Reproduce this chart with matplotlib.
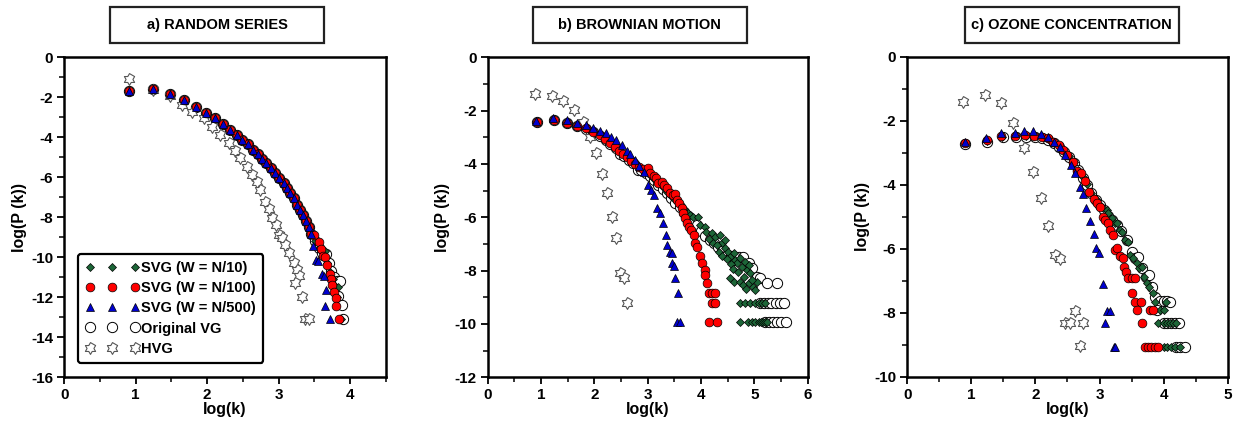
import numpy as np
import matplotlib
matplotlib.use('Agg')
import matplotlib.pyplot as plt
from matplotlib.path import Path
from matplotlib.patches import Rectangle

plt.rcParams['font.family'] = ['Liberation Sans', 'DejaVu Sans']
plt.rcParams['font.weight'] = 'bold'
plt.rcParams['axes.unicode_minus'] = False

# ---------------- data (log(k), log(P(k))) ----------------
panel_titles = ['a) RANDOM SERIES', 'b) BROWNIAN MOTION', 'c) OZONE CONCENTRATION']
series_labels = ['SVG (W = N/10)', 'SVG (W = N/100)', 'SVG (W = N/500)', 'Original VG', 'HVG']

# panel a: the four VG-type curves share the body, they split at the tail
a_body = [(0.91, -1.68), (1.24, -1.60), (1.48, -1.85), (1.68, -2.14), (1.85, -2.47), (1.99, -2.80),
          (2.11, -3.05), (2.22, -3.35), (2.32, -3.64), (2.42, -3.89), (2.49, -4.13), (2.57, -4.35),
          (2.64, -4.64), (2.71, -4.85), (2.77, -5.08), (2.83, -5.30), (2.89, -5.55), (2.95, -5.80),
          (3.01, -6.05), (3.07, -6.30), (3.12, -6.52), (3.16, -6.80), (3.21, -7.05), (3.26, -7.38),
          (3.30, -7.62), (3.34, -7.90), (3.38, -8.20), (3.42, -8.50)]
a_n10_tail = [(3.46, -8.85), (3.51, -9.20), (3.56, -9.55), (3.61, -9.75), (3.65, -9.70), (3.68, -10.30),
              (3.72, -10.75), (3.76, -11.10), (3.79, -11.45), (3.83, -11.50), (3.82, -12.00), (3.87, -13.10)]
a_n100_tail = [(3.46, -8.85), (3.50, -8.90), (3.56, -9.25), (3.60, -9.60), (3.62, -9.93), (3.65, -10.00),
               (3.68, -10.40), (3.72, -10.83), (3.73, -11.10), (3.75, -11.40), (3.78, -11.75), (3.80, -12.05),
               (3.80, -12.44), (3.85, -13.10)]
a_n500_tail = [(3.46, -8.85), (3.48, -9.43), (3.52, -10.15), (3.55, -10.20), (3.61, -10.85), (3.63, -10.95),
               (3.67, -11.65), (3.65, -12.43), (3.72, -13.10)]
a_vg_tail = [(3.46, -8.85), (3.51, -9.20), (3.56, -9.55), (3.61, -9.80), (3.66, -9.85), (3.70, -10.30),
             (3.74, -10.70), (3.78, -11.00), (3.82, -11.20), (3.86, -11.17), (3.84, -11.93), (3.89, -12.38),
             (3.91, -13.10)]
a_hvg = [(0.91, -1.08), (1.24, -1.62), (1.48, -1.95), (1.65, -2.38), (1.79, -2.72), (1.95, -3.05),
         (2.07, -3.47), (2.18, -3.88), (2.30, -4.30), (2.39, -4.68), (2.46, -5.06), (2.56, -5.47),
         (2.63, -5.88), (2.70, -6.22), (2.74, -6.63), (2.81, -7.25), (2.86, -7.58), (2.91, -8.05),
         (2.96, -8.38), (3.00, -8.88), (3.05, -9.05), (3.09, -9.38), (3.14, -9.77), (3.21, -10.30),
         (3.26, -10.63), (3.29, -10.93), (3.23, -11.30), (3.33, -12.00), (3.37, -13.10), (3.42, -13.10)]

# panel b
b_n10 = [(0.92, -2.41), (1.25, -2.35), (1.48, -2.45), (1.67, -2.58), (1.84, -2.68), (1.98, -2.80),
         (2.11, -2.93), (2.21, -3.08), (2.30, -3.22), (2.40, -3.37), (2.48, -3.52), (2.56, -3.66),
         (2.64, -3.80), (2.72, -3.94), (2.80, -4.06), (2.88, -4.17), (2.96, -4.28), (3.04, -4.40),
         (3.12, -4.55), (3.20, -4.72), (3.28, -4.88), (3.36, -5.05), (3.44, -5.20), (3.52, -5.35),
         (3.60, -5.52), (3.68, -5.70), (3.75, -5.85), (3.79, -5.91), (3.85, -6.00), (3.95, -6.00),
         (3.98, -6.29), (4.07, -6.35), (4.10, -6.54), (4.20, -6.60), (4.26, -6.73), (4.36, -6.66),
         (4.39, -6.98), (4.45, -6.85), (4.45, -7.16), (4.51, -7.29), (4.54, -7.48), (4.61, -7.35),
         (4.64, -7.60), (4.67, -7.72), (4.73, -7.54), (4.76, -7.85), (4.82, -7.66), (4.86, -7.98),
         (4.89, -7.79), (4.92, -8.10), (4.54, -8.29), (4.61, -8.41), (4.73, -8.41), (4.79, -8.54),
         (4.89, -8.48), (4.98, -8.60), (5.04, -8.41), (5.01, -8.73), (4.73, -9.23), (4.82, -9.23),
         (4.92, -9.23), (5.01, -9.23), (5.08, -9.23), (5.14, -9.23), (5.20, -9.23), (4.73, -9.91),
         (4.88, -9.91), (4.96, -9.91), (5.02, -9.91), (5.08, -9.91), (5.12, -9.91), (5.16, -9.91),
         (5.20, -9.91), (5.24, -9.91), (4.14, -6.80), (4.22, -6.95), (4.30, -7.05), (4.33, -7.30),
         (4.40, -7.45), (4.48, -7.58), (4.57, -7.75), (4.60, -7.95), (4.70, -8.05), (4.80, -8.25),
         (4.95, -8.35), (4.85, -8.70)]
b_n100 = [(0.92, -2.41), (1.25, -2.35), (1.48, -2.45), (1.67, -2.58), (1.84, -2.66), (1.98, -2.79),
          (2.11, -2.91), (2.20, -3.08), (2.29, -3.20), (2.39, -3.35), (2.46, -3.50), (2.53, -3.63),
          (2.61, -3.75), (2.68, -3.88), (2.76, -4.00), (2.84, -4.10), (2.92, -4.20), (3.00, -4.14),
          (3.04, -4.35), (3.11, -4.45), (3.16, -4.54), (3.20, -4.70), (3.26, -4.66), (3.31, -4.79),
          (3.36, -4.91), (3.42, -5.08), (3.48, -5.16), (3.51, -5.13), (3.54, -5.35), (3.58, -5.48),
          (3.64, -5.66), (3.67, -5.85), (3.70, -6.04), (3.73, -6.20), (3.78, -6.35), (3.81, -6.48),
          (3.86, -6.66), (3.89, -6.98), (3.92, -7.10), (3.98, -7.45), (4.01, -7.73), (4.08, -7.98),
          (4.08, -8.16), (4.11, -8.48), (4.14, -8.83), (4.20, -8.83), (4.26, -8.83), (4.20, -9.23),
          (4.26, -9.23), (4.14, -9.91), (4.29, -9.91)]
b_n500 = [(0.91, -2.40), (1.23, -2.29), (1.48, -2.35), (1.68, -2.45), (1.84, -2.55), (1.98, -2.66),
          (2.10, -2.76), (2.22, -2.85), (2.31, -2.98), (2.41, -3.10), (2.51, -3.29), (2.61, -3.50),
          (2.67, -3.63), (2.76, -3.85), (2.84, -4.08), (2.93, -4.29), (3.01, -4.79), (3.06, -4.98),
          (3.11, -5.16), (3.17, -5.66), (3.23, -5.83), (3.29, -6.23), (3.34, -6.66), (3.37, -7.04),
          (3.42, -7.29), (3.45, -7.35), (3.46, -7.73), (3.49, -7.83), (3.51, -8.29), (3.56, -8.83),
          (3.54, -9.91), (3.61, -9.91)]
b_vg = [(0.92, -2.41), (1.25, -2.36), (1.48, -2.45), (1.67, -2.58), (1.84, -2.68), (1.98, -2.82),
        (2.11, -2.95), (2.21, -3.10), (2.30, -3.25), (2.40, -3.40), (2.48, -3.62), (2.56, -3.70),
        (2.64, -3.84), (2.72, -3.98), (2.82, -4.23), (2.88, -4.24), (2.96, -4.35), (3.04, -4.45),
        (3.12, -4.60), (3.20, -4.78), (3.28, -4.93), (3.36, -5.10), (3.44, -5.28), (3.52, -5.45),
        (3.60, -5.62), (3.68, -5.80), (3.76, -5.95), (3.84, -6.10), (3.92, -6.30), (4.00, -6.50),
        (4.08, -6.70), (4.16, -6.85), (4.24, -6.95), (4.32, -7.10), (4.40, -7.25), (4.48, -7.40),
        (4.56, -7.45), (4.64, -7.60), (4.72, -7.50), (4.79, -7.48), (4.89, -7.73), (4.95, -7.90),
        (5.04, -8.23), (5.10, -8.29), (5.23, -8.48), (5.42, -8.48), (5.10, -9.20), (5.18, -9.20),
        (5.26, -9.20), (5.32, -9.20), (5.40, -9.20), (5.48, -9.20), (5.56, -9.20), (5.20, -9.91),
        (5.28, -9.91), (5.35, -9.91), (5.42, -9.91), (5.50, -9.91), (5.59, -9.91)]
b_hvg = [(0.89, -1.38), (1.20, -1.44), (1.42, -1.64), (1.61, -1.98), (1.78, -2.44), (1.92, -2.98),
         (2.03, -3.60), (2.14, -4.38), (2.24, -5.10), (2.33, -6.00), (2.41, -6.76), (2.48, -8.08),
         (2.56, -8.29), (2.62, -9.20)]

# panel c
c_n10 = [(0.90, -2.70), (1.24, -2.62), (1.48, -2.50), (1.69, -2.49), (1.85, -2.47), (1.98, -2.49),
         (2.10, -2.52), (2.20, -2.58), (2.29, -2.68), (2.37, -2.80), (2.45, -2.95), (2.52, -3.10),
         (2.60, -3.30), (2.67, -3.55), (2.74, -3.75), (2.80, -3.98), (2.87, -4.25), (2.94, -4.45),
         (3.00, -4.62), (3.06, -4.74), (3.12, -4.79), (3.14, -4.90), (3.20, -5.05), (3.24, -5.19),
         (3.27, -5.21), (3.32, -5.42), (3.35, -5.47), (3.40, -5.73), (3.45, -5.78), (3.48, -6.20),
         (3.53, -6.30), (3.58, -6.46), (3.62, -6.60), (3.66, -6.56), (3.70, -6.90), (3.74, -7.08),
         (3.78, -7.20), (3.84, -7.40), (3.87, -7.66), (4.03, -7.66), (3.79, -7.92), (3.95, -7.92),
         (4.00, -7.92), (3.92, -8.33), (4.00, -8.33), (4.05, -8.33), (4.10, -8.33), (4.15, -8.33),
         (4.20, -8.33), (4.00, -9.06), (4.06, -9.06), (4.12, -9.06), (4.18, -9.06), (4.26, -9.06)]
c_n100 = [(0.90, -2.69), (1.24, -2.60), (1.47, -2.48), (1.68, -2.48), (1.84, -2.45), (1.98, -2.48),
          (2.10, -2.50), (2.20, -2.55), (2.28, -2.66), (2.36, -2.76), (2.43, -2.92), (2.50, -3.07),
          (2.58, -3.28), (2.65, -3.56), (2.71, -3.63), (2.78, -3.88), (2.84, -4.22), (2.91, -4.46),
          (2.96, -4.58), (3.00, -4.69), (3.05, -5.00), (3.09, -5.10), (3.14, -5.19), (3.17, -5.42),
          (3.21, -5.57), (3.24, -6.04), (3.28, -5.99), (3.32, -6.23), (3.36, -6.30), (3.38, -6.56),
          (3.42, -6.72), (3.45, -6.93), (3.50, -6.93), (3.56, -6.93), (3.50, -7.40), (3.56, -7.66),
          (3.64, -7.66), (3.59, -7.92), (3.66, -8.33), (3.79, -7.92), (3.84, -7.92), (3.71, -9.06),
          (3.76, -9.06), (3.81, -9.06), (3.86, -9.06), (3.92, -9.06)]
c_n500 = [(0.90, -2.66), (1.23, -2.55), (1.47, -2.40), (1.68, -2.38), (1.82, -2.32), (1.96, -2.32),
          (2.08, -2.43), (2.20, -2.52), (2.29, -2.66), (2.39, -2.81), (2.46, -3.07), (2.55, -3.39),
          (2.62, -3.65), (2.69, -4.06), (2.74, -4.29), (2.79, -4.74), (2.85, -5.13), (2.91, -5.55),
          (2.95, -5.99), (2.99, -6.15), (3.05, -7.10), (3.11, -7.94), (3.17, -7.94), (3.09, -8.33),
          (3.22, -9.06), (3.24, -9.06)]
c_vg = [(0.90, -2.73), (1.25, -2.66), (1.49, -2.52), (1.70, -2.52), (1.86, -2.50), (1.99, -2.52),
        (2.10, -2.55), (2.20, -2.60), (2.29, -2.70), (2.37, -2.82), (2.45, -2.98), (2.52, -3.12),
        (2.60, -3.33), (2.67, -3.55), (2.74, -3.78), (2.80, -4.00), (2.87, -4.25), (2.94, -4.48),
        (3.00, -4.65), (3.07, -4.80), (3.14, -4.98), (3.20, -5.10), (3.27, -5.25), (3.34, -5.45),
        (3.43, -5.73), (3.50, -6.10), (3.55, -6.30), (3.60, -6.25), (3.66, -6.60), (3.72, -6.90),
        (3.78, -6.82), (3.82, -7.20), (3.87, -7.50), (3.95, -7.62), (4.00, -7.62), (4.05, -7.62),
        (4.10, -7.66), (3.90, -7.92), (4.00, -8.33), (4.06, -8.33), (4.12, -8.33), (4.18, -8.33),
        (4.24, -8.33), (4.20, -9.06), (4.26, -9.06), (4.34, -9.06)]
c_hvg = [(0.875, -1.41), (1.21, -1.20), (1.46, -1.46), (1.65, -2.08), (1.82, -2.86), (1.96, -3.59),
         (2.08, -4.43), (2.20, -5.28), (2.30, -6.20), (2.39, -6.33), (2.62, -7.94), (2.46, -8.33),
         (2.54, -8.33), (2.75, -8.33), (2.69, -9.04)]

panel_data = [
    [a_body + a_n10_tail, a_body + a_n100_tail, a_body + a_n500_tail, a_body + a_vg_tail, a_hvg],
    [b_n10, b_n100, b_n500, b_vg, b_hvg],
    [c_n10, c_n100, c_n500, c_vg, c_hvg],
]
xlims = [(0, 4.5), (0, 6), (0, 5)]
ylims = [(-16, 0), (-12, 0), (-10, 0)]

# ---------------- styling ----------------
ang = np.pi / 2 + np.arange(12) * np.pi / 6
rad = np.where(np.arange(12) % 2 == 0, 1.0, 0.58)
hexagram = Path(np.column_stack([rad * np.cos(ang), rad * np.sin(ang)]), closed=True)

styles = [
    dict(marker='D', ms=4.2, mfc='#1d6638', mec='black', mew=0.5),
    dict(marker='o', ms=6.3, mfc='#ff0000', mec='black', mew=0.5),
    dict(marker='^', ms=6.0, mfc='#0000d0', mec='black', mew=0.5),
    dict(marker='o', ms=7.4, mfc='white', mec='black', mew=0.7),
    dict(marker=hexagram, ms=8.5, mfc='white', mec='#555555', mew=0.8),
]
draw_order = [3, 4, 0, 1, 2]

fig = plt.figure(figsize=(12.48, 4.32), dpi=100)
positions = [(0.0515, 0.1266, 0.2575, 0.7408), (0.3908, 0.1266, 0.2564, 0.7408),
             (0.7270, 0.1280, 0.2567, 0.7408)]
box_centers = [0.1739, 0.5126, 0.8587]

for p in range(3):
    ax = fig.add_axes(positions[p])
    handles = {}
    for i in draw_order:
        x, y = np.array(panel_data[p][i]).T
        h, = ax.plot(x, y, linestyle='none', label=series_labels[i], **styles[i])
        handles[i] = h
    ax.set_xlim(*xlims[p])
    ax.set_ylim(*ylims[p])
    ax.xaxis.set_major_locator(plt.MultipleLocator(1))
    ax.xaxis.set_minor_locator(plt.MultipleLocator(0.5))
    ax.yaxis.set_major_locator(plt.MultipleLocator(2))
    ax.yaxis.set_minor_locator(plt.MultipleLocator(1))
    ax.tick_params(which='major', direction='out', length=5, width=1.3, labelsize=11, pad=3)
    ax.tick_params(which='minor', direction='out', length=3.5, width=1.1)
    for lab in ax.get_xticklabels() + ax.get_yticklabels():
        lab.set_fontweight('bold')
    for sp in ax.spines.values():
        sp.set_linewidth(1.8)
    ax.set_xlabel('log(k)', fontsize=11.5, fontweight='bold', labelpad=0)
    ax.set_ylabel('log(P (k))', fontsize=11.5, fontweight='bold', labelpad=3)

    # title box
    w, hgt = 0.1715, 0.0833
    fig.add_artist(Rectangle((box_centers[p] - w / 2, 0.942 - hgt / 2), w, hgt,
                             transform=fig.transFigure, fc='white', ec='#222222', lw=1.6))
    fig.text(box_centers[p], 0.942, panel_titles[p], ha='center', va='center',
             fontsize=10.5, fontweight='bold')

    if p == 0:
        leg = ax.legend([handles[i] for i in range(5)], series_labels, loc='lower left',
                        bbox_to_anchor=(0.02, 0.022), numpoints=3, handlelength=3.7,
                        handletextpad=0.15, labelspacing=0.42, borderpad=0.5,
                        prop={'weight': 'bold', 'size': 10.5}, fancybox=True, framealpha=1)
        leg.get_frame().set_edgecolor('black')
        leg.get_frame().set_linewidth(1.6)

fig.savefig('out.png', dpi=100)
